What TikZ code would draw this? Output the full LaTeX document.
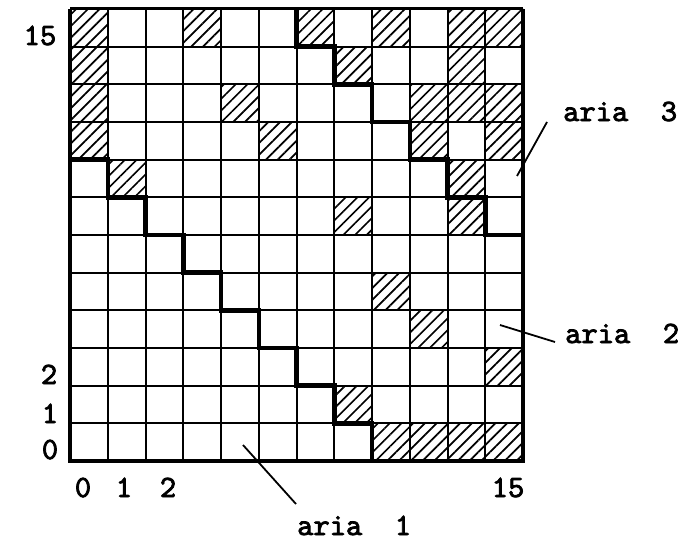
\documentclass[tikz,border=0pt]{standalone}
\usepackage{fontspec}
\newfontfamily\lblfont{lmmono10-regular}[Extension=.otf, FakeBold=2.5]
\usetikzlibrary{patterns.meta,calc}
\tikzset{
  lbl/.style={font=\lblfont\fontsize{31}{34}\selectfont, inner sep=0pt},
  gridline/.style={line width=2pt},
  stair/.style={line width=4.5pt, line join=miter},
  frameline/.style={line width=4.5pt, line join=miter},
  hatch/.style={pattern={Lines[angle=45,distance=8.3pt,line width=1.7pt]}},
  leader/.style={line width=1.8pt}
}
\begin{document}
\begin{tikzpicture}[x=1pt,y=-1pt]
\useasboundingbox (0,0) rectangle (684,543);
\begin{scope}[shift={(70pt,-461pt)}, x=37.75pt, y=37.67pt]
  \foreach \c/\r in {0/11,3/11,6/11,8/11,10/11,11/11,
                     0/10,7/10,10/10,
                     0/9,4/9,9/9,10/9,11/9,
                     0/8,5/8,9/8,11/8,
                     1/7,10/7,
                     7/6,10/6,
                     8/4,9/3,11/2,7/1,
                     8/0,9/0,10/0,11/0}
    \fill[hatch] (\c,\r) rectangle ++(1,1);
  \draw[gridline, step=1] (0,0) grid (12,12);
  \draw[stair] (0,8) -- (1,8) -- (1,7) -- (2,7) -- (2,6) -- (3,6) -- (3,5) -- (4,5)
     -- (4,4) -- (5,4) -- (5,3) -- (6,3) -- (6,2) -- (7,2) -- (7,1) -- (8,1) -- (8,0);
  \draw[stair] (6,12) -- (6,11) -- (7,11) -- (7,10) -- (8,10) -- (8,9) -- (9,9)
     -- (9,8) -- (10,8) -- (10,7) -- (11,7) -- (11,6) -- (12,6);
  \draw[frameline] (0,12) -- (0,0) -- (12,0) -- (12,12);
  \draw[line width=3pt] (0,12) -- (12,12);
\end{scope}

% axis labels
\node[lbl, anchor=base] (y15) at (40,45) {15};
\node[lbl, anchor=base] (y2) at (49,384) {2};
\node[lbl, anchor=base] (y1) at (50,423) {1};
\node[lbl, anchor=base] (y0) at (50,459) {0};
\node[lbl, anchor=base] (x0) at (83,497) {0};
\node[lbl, anchor=base] (x1) at (124,497) {1};
\node[lbl, anchor=base] (x2) at (168,497) {2};
\node[lbl, anchor=base] (x15) at (508,497) {15};

% area labels
\node[lbl, anchor=base west] (l3) at (563,121) {aria\ \ 3};
\node[lbl, anchor=base west] (l2) at (565,343) {aria\ \ 2};
\node[lbl, anchor=base west] (l1) at (297,535) {aria\ \ 1};

\coordinate (p3) at (517,176);
\coordinate (p2) at (500,325);
\coordinate (p1) at (243,445);

\draw[leader] (p3) -- ($(l3.base west)+(-16pt,-1pt)$);
\draw[leader] (p2) -- ($(l2.base west)+(-10pt,1pt)$);
\draw[leader] (p1) -- ($(l1.base west)+(-1pt,31pt)$);
\end{tikzpicture}
\end{document}
